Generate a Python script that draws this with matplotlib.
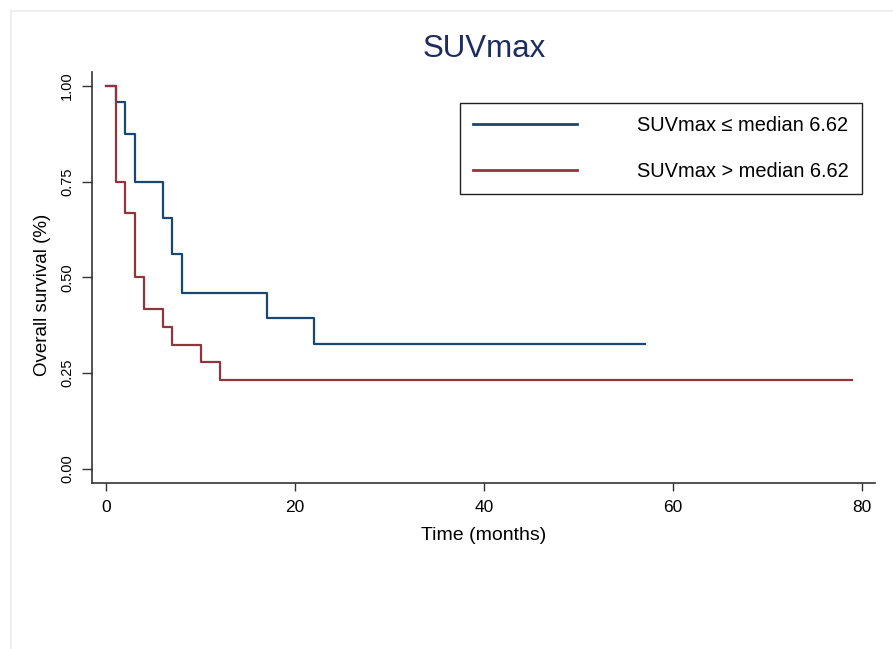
import numpy as np
import matplotlib
matplotlib.use("Agg")
import matplotlib.pyplot as plt
from matplotlib.patches import Rectangle

plt.rcParams['font.family'] = ['Liberation Sans', 'DejaVu Sans']

# Kaplan-Meier step data
time_low = [0, 1, 2, 3, 6, 7, 8, 17, 22, 57]
surv_low = [1.00, 0.958, 0.875, 0.75, 0.656, 0.562, 0.458, 0.393, 0.327, 0.327]
time_high = [0, 1, 2, 3, 4, 6, 7, 10, 12, 79]
surv_high = [1.00, 0.75, 0.667, 0.50, 0.417, 0.37, 0.324, 0.278, 0.231, 0.231]

labels = ["SUVmax \u2264 median 6.62", "SUVmax > median 6.62"]
colors = ["#1a476f", "#90353b"]
x_ticks = [0, 20, 40, 60, 80]
y_ticks = [0.0, 0.25, 0.5, 0.75, 1.0]

fig = plt.figure(figsize=(8.93, 6.49), dpi=100, facecolor='w')
ax = fig.add_axes([92 / 893, 1 - 483 / 649, 783 / 893, 411 / 649])

# faint page border like the screenshot
fig.patches.append(Rectangle((11 / 893, -0.1), 1.2, 1 - 11 / 649 + 0.1,
                             transform=fig.transFigure, fill=False,
                             edgecolor='#ececec', lw=1.2))

ax.step(time_low, surv_low, where='post', color=colors[0], lw=1.6, label=labels[0])
ax.step(time_high, surv_high, where='post', color=colors[1], lw=1.6, label=labels[1])

ax.set_xlim(-1.5, 81.4)
ax.set_ylim(-0.037, 1.036)
ax.set_xticks(x_ticks)
ax.set_yticks(y_ticks)
ax.set_yticklabels(["%.2f" % v for v in y_ticks], rotation=90, va='center', fontsize=10.5)
ax.tick_params(axis='x', labelsize=12.5, length=6, width=1, pad=6, color='#333333')
ax.tick_params(axis='y', length=7, width=1, pad=6, color='#333333')

for s in ['top', 'right']:
    ax.spines[s].set_visible(False)
for s in ['left', 'bottom']:
    ax.spines[s].set_color('#333333')
    ax.spines[s].set_linewidth(1.2)

ax.set_xlabel("Time (months)", fontsize=14)
ax.xaxis.set_label_coords(0.5, -0.107)
ax.set_ylabel("Overall survival (%)", fontsize=13.5)
ax.yaxis.set_label_coords(-0.053, 0.457)

fig.text(484 / 893, 1 - 49 / 649, "SUVmax", fontsize=22.5, color='#1c2d5e',
         ha='center', va='center')

leg = ax.legend(loc='upper right', bbox_to_anchor=(0.983, 0.925), borderaxespad=0,
                fontsize=14.4, frameon=True, fancybox=False, edgecolor='#222222',
                framealpha=1, handlelength=5.2, handletextpad=3.0,
                labelspacing=1.37, borderpad=0.65)
leg.get_frame().set_linewidth(1.0)
for line in leg.get_lines():
    line.set_linewidth(2.0)

fig.savefig("out.png", dpi=100, facecolor='w')
